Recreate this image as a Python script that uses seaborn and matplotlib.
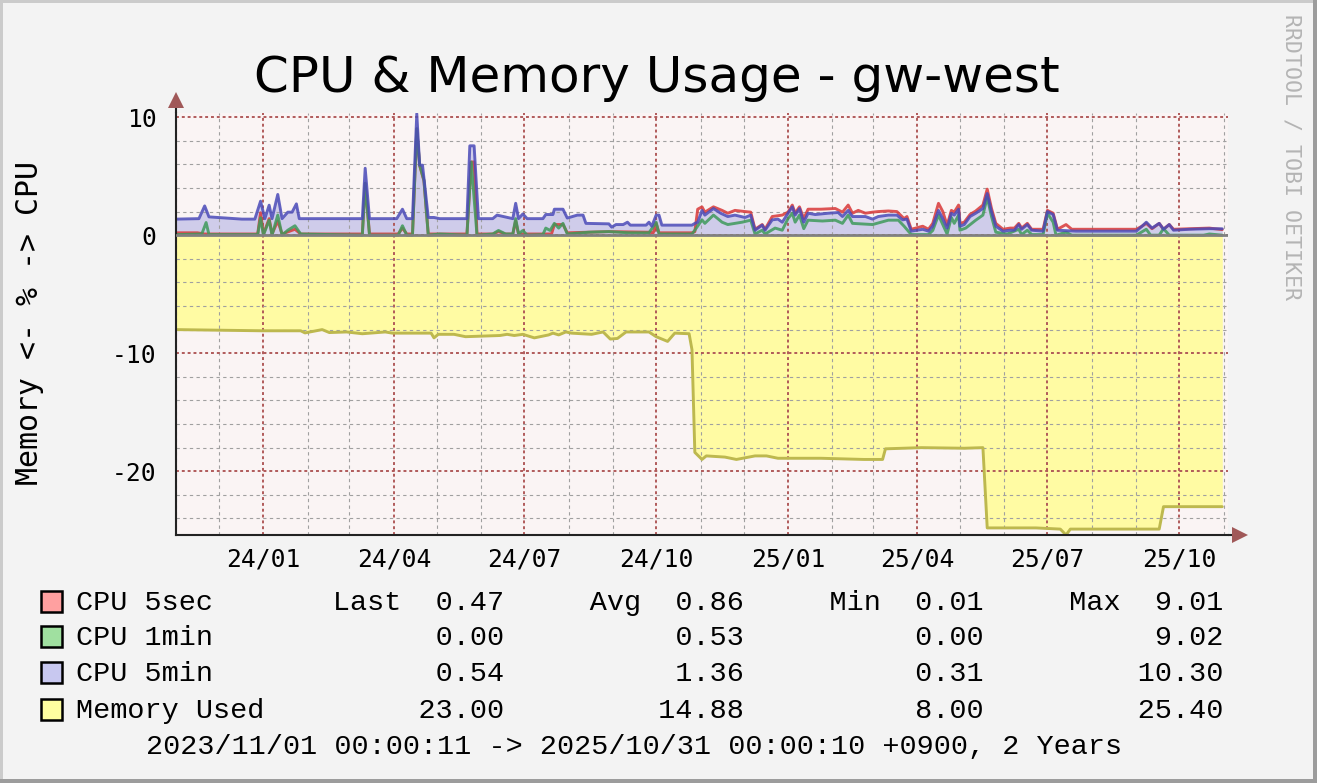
import numpy as np
import pandas as pd
import matplotlib
matplotlib.use("Agg")
import matplotlib.pyplot as plt
import matplotlib.dates as mdates
from matplotlib.ticker import MultipleLocator
from matplotlib.patches import Rectangle
import seaborn as sns

START = pd.Timestamp("2023-11-01")
END = START + pd.Timedelta(days=734)

# CPU 5sec (red), day offset from START
cpu5s_day = [0, 15, 20, 57, 59, 61, 65, 67, 71, 74, 83, 87, 130, 132, 135, 155, 158, 161, 165, 168,
             170, 173, 176, 184, 203, 206, 208, 210, 221, 225, 230, 235, 237, 239, 262, 264, 270, 273,
             302, 330, 333, 335, 337, 360, 362, 364, 367,
             369, 375, 381, 385, 390, 397, 401, 404, 409, 411, 416, 423, 427, 430, 432, 435, 438, 441,
             450, 460, 465, 469, 472, 476, 481, 486, 490, 497, 503, 508, 510, 513, 521, 525, 528, 532,
             535, 538, 541, 543, 546, 547, 550, 554, 558, 563, 566, 569, 572, 577, 582, 585, 588, 590,
             594, 597, 605, 608, 612, 615, 621, 625, 670, 674, 677, 681, 686, 689, 693, 696, 721, 730]
cpu5s_val = [0.2, 0.2, 0.1, 0.1, 1.9, 0.1, 1.4, 0.1, 1.2, 0.1, 0.5, 0.1, 0.1, 4.4, 0.1, 0.1, 0.6, 0.1, 0.1, 9.01,
             5.9, 4.6, 0.1, 0.1, 0.1, 6.2, 6.2, 0.1, 0.1, 0.3, 0.1, 0.1, 1.2, 0.1, 0.1, 0.9, 0.9, 0.2,
             0.3, 0.25, 0.2, 1.0, 0.2, 0.2, 0.3, 2.2, 2.4,
             1.95, 2.4, 2.1, 1.86, 2.1, 2.0, 1.95, 0.5, 0.9, 0.5, 1.58, 1.7, 1.95, 2.55, 1.86, 2.4, 1.4, 2.2,
             2.2, 2.26, 1.95, 2.55, 1.86, 2.1, 1.86, 1.95, 2.0, 2.05, 2.0, 1.4, 1.58, 0.5, 0.76, 0.5, 1.0, 2.7,
             2.0, 0.85, 2.1, 1.95, 2.55, 1.0, 1.1, 1.75, 2.05, 2.55, 3.9, 2.26, 1.0, 0.5, 0.6, 0.6, 1.0, 0.6,
             1.0, 0.5, 0.5, 2.1, 1.86, 0.5, 0.9, 0.5, 0.5, 0.76, 1.0, 0.55, 1.0, 0.5, 0.9, 0.5, 0.6, 0.47]

# CPU 1min (green)
cpu1m_day = [0, 18, 21, 23, 57, 59, 61, 65, 67, 71, 74, 78, 83, 87, 130, 132, 135, 155, 158, 161,
             165, 168, 170, 173, 176, 184, 203, 206, 210, 221, 225, 230, 235, 237, 239, 242, 245, 256,
             258, 261, 264, 267, 270, 273, 288, 302, 316, 330, 335, 337, 360, 362, 367, 369, 375, 381,
             385, 395, 401, 404, 409, 411, 418, 423, 427, 430, 432, 435, 438, 441, 451, 460, 465, 469,
             472, 486, 497, 504, 508, 513, 525, 528, 532, 535, 538, 541, 543, 546, 547, 551, 558, 563,
             566, 569, 572, 580, 588, 590, 594, 597, 605, 608, 612, 614, 621, 625, 670, 677, 680, 686,
             689, 693, 717, 721, 730]
cpu1m_val = [0.05, 0.1, 1.07, 0.05, 0.05, 1.47, 0.0, 1.27, 0.0, 1.7, 0.0, 0.42, 0.8, 0.1, 0.0, 4.4, 0.0, 0.0, 0.8, 0.0,
             0.0, 9.02, 5.93, 4.66, 0.0, 0.1, 0.0, 6.2, 0.0, 0.1, 0.4, 0.1, 0.1, 1.4, 0.1, 0.4, 0.0, 0.05,
             0.6, 0.4, 1.0, 0.6, 1.0, 0.1, 0.25, 0.3, 0.2, 0.2, 1.1, 0.1, 0.1, 0.42, 1.3, 1.0, 1.7, 1.1,
             0.9, 1.1, 1.27, 0.1, 0.42, 0.1, 0.6, 0.42, 1.4, 1.86, 1.1, 1.7, 0.55, 1.27, 1.2, 1.27, 1.0, 1.7,
             1.0, 0.9, 1.27, 1.27, 0.76, 0.05, 0.05, 0.4, 1.7, 0.9, 0.1, 1.5, 1.0, 1.7, 0.42, 0.6, 1.27, 1.7,
             3.2, 1.58, 0.25, 0.1, 0.5, 0.05, 0.42, 0.05, 0.05, 1.86, 1.1, 0.0, 0.25, 0.0, 0.0, 0.5, 0.0, 0.0,
             0.55, 0.0, 0.0, 0.1, 0.0]

# CPU 5min (blue)
cpu5m_day = [0, 16, 20, 23, 46, 55, 59, 62, 65, 67, 71, 74, 78, 81, 84, 86, 130, 132, 135, 154,
             158, 161, 165, 168, 170, 172, 176, 180, 184, 203, 205, 208, 211, 221, 224, 235, 237, 239,
             242, 245, 256, 258, 263, 264, 270, 273, 280, 284, 286, 302, 304, 307, 312, 315, 317, 328,
             330, 332, 335, 337, 339, 360, 362, 364, 367, 369, 375, 380, 385, 390, 397, 401, 404, 409,
             411, 416, 420, 423, 427, 430, 432, 435, 438, 441, 446, 455, 462, 465, 469, 472, 481, 486,
             490, 497, 503, 507, 510, 513, 521, 525, 528, 532, 535, 538, 541, 543, 546, 547, 550, 554,
             558, 563, 566, 569, 572, 577, 582, 585, 588, 590, 594, 597, 605, 608, 612, 615, 628, 670,
             674, 677, 681, 686, 689, 693, 696, 707, 721, 730]
cpu5m_val = [1.36, 1.4, 2.48, 1.55, 1.36, 1.36, 2.88, 1.4, 2.54, 1.4, 3.45, 1.4, 1.95, 1.95, 2.65, 1.4, 1.4, 5.67, 1.4, 1.4,
             2.2, 1.4, 1.4, 10.3, 5.93, 5.93, 1.5, 1.5, 1.4, 1.4, 7.57, 7.57, 1.4, 1.4, 1.7, 1.4, 2.7, 1.4,
             1.8, 1.4, 1.4, 1.75, 1.75, 2.2, 2.2, 1.45, 1.7, 1.7, 1.0, 0.96, 0.68, 0.9, 0.9, 1.1, 0.85, 0.85,
             1.1, 0.76, 1.7, 1.7, 0.85, 0.85, 1.0, 1.1, 2.1, 1.7, 2.26, 1.86, 1.58, 1.7, 1.5, 1.7, 0.42, 0.85,
             0.42, 1.3, 1.36, 1.1, 1.86, 2.4, 1.7, 2.26, 1.1, 1.86, 1.75, 1.86, 1.92, 1.58, 2.1, 1.58, 1.58, 1.36,
             1.58, 1.7, 1.7, 1.3, 1.36, 0.34, 0.5, 0.34, 0.76, 2.1, 1.4, 0.6, 1.86, 1.7, 2.2, 0.76, 0.9, 1.58,
             1.86, 2.26, 3.53, 2.0, 0.76, 0.34, 0.42, 0.42, 0.9, 0.5, 0.9, 0.42, 0.34, 2.0, 1.75, 0.42, 0.34, 0.34,
             0.76, 1.1, 0.6, 1.0, 0.5, 0.9, 0.42, 0.5, 0.55, 0.54]

# Memory used (drawn below zero)
mem_day = [0, 60, 87, 90, 102, 107, 119, 130, 146, 151, 178, 180, 183, 194, 202, 226, 231, 236, 242, 250,
           260, 263, 267, 272, 276, 290, 298, 303, 308, 314, 330, 335, 343, 348, 358, 360, 362, 367, 370,
           383, 391, 404, 412, 420, 450, 480, 493, 495, 520, 550, 563, 566, 600, 617, 621, 624, 660, 686,
           689, 730]
mem_val = [8.0, 8.1, 8.1, 8.28, 8.0, 8.25, 8.2, 8.35, 8.2, 8.3, 8.3, 8.7, 8.4, 8.4, 8.6, 8.5, 8.4, 8.5, 8.4, 8.7,
           8.45, 8.3, 8.45, 8.2, 8.3, 8.4, 8.2, 8.8, 8.75, 8.2, 8.2, 8.6, 9.0, 8.3, 8.35, 9.7, 18.4, 19.0, 18.7,
           18.8, 19.0, 18.7, 18.7, 18.9, 18.9, 19.0, 19.0, 18.1, 18.0, 18.05, 18.0, 24.8, 24.8, 24.9, 25.4, 24.9, 24.9, 24.9,
           23.0, 23.0]

legend_labels = ["CPU 5sec", "CPU 1min", "CPU 5min", "Memory Used"]
legend_colors = ["#FFA0A0", "#A0E0A0", "#C8C8F0", "#FFFFA0"]
stat_last = [0.47, 0.00, 0.54, 23.00]
stat_avg = [0.86, 0.53, 1.36, 14.88]
stat_min = [0.01, 0.00, 0.31, 8.00]
stat_max = [9.01, 9.02, 10.30, 25.40]
period_text = "2023/11/01 00:00:11 -> 2025/10/31 00:00:10 +0900, 2 Years"

W, H = 1317, 783


def to_dates(days):
    return START + pd.to_timedelta(np.array(days, dtype=float), unit="D")


sns.set_style("white")
plt.rcParams["font.family"] = ["DejaVu Sans"]
plt.rcParams["axes.unicode_minus"] = False
plt.rcParams["text.color"] = "black"
plt.rcParams["xtick.color"] = "black"
plt.rcParams["ytick.color"] = "black"

fig = plt.figure(figsize=(W / 100, H / 100), dpi=100, facecolor="#F3F3F3")
ax = fig.add_axes([176 / W, (H - 535) / H, 1052 / W, 422 / H])
ax.set_facecolor("#FAF4F4")
ax.set_axisbelow("line")

cpu5m_x = to_dates(cpu5m_day)
mem_x = to_dates(mem_day)
mem_neg = -np.array(mem_val)

ax.fill_between(cpu5m_x, 0, cpu5m_val, color="#CFCCEA", lw=0, zorder=1)
ax.fill_between(mem_x, 0, mem_neg, color="#FFFBA3", lw=0, zorder=1)

lw = 2.1
sns.lineplot(x=mem_x, y=mem_neg, ax=ax, color="#BDB84E", linewidth=lw, sort=False, zorder=2)
sns.lineplot(x=to_dates(cpu5s_day), y=cpu5s_val, ax=ax, color="#D83838", linewidth=lw, alpha=0.85,
             sort=False, zorder=2)
sns.lineplot(x=to_dates(cpu1m_day), y=cpu1m_val, ax=ax, color="#3F9A5B", linewidth=lw, alpha=0.85,
             sort=False, zorder=2)
sns.lineplot(x=cpu5m_x, y=cpu5m_val, ax=ax, color="#4A4AB8", linewidth=lw, alpha=0.85,
             sort=False, zorder=2)
ax.axhline(0, color="#808080", lw=2.0, zorder=3)

ax.set_xlim(START, END)
ax.set_ylim(-25.4, 10.35)
ax.xaxis.set_major_locator(mdates.MonthLocator(bymonth=[1, 4, 7, 10]))
ax.xaxis.set_major_formatter(mdates.DateFormatter("%y/%m"))
ax.xaxis.set_minor_locator(mdates.MonthLocator())
ax.yaxis.set_major_locator(MultipleLocator(10))
ax.yaxis.set_minor_locator(MultipleLocator(2))

ax.grid(which="major", color="#B05A5A", linestyle=(0, (1.5, 1.5)), linewidth=1.4)
ax.grid(which="minor", color="#A0A0A0", linestyle=(0, (3, 3)), linewidth=0.8)

for side in ["top", "right"]:
    ax.spines[side].set_visible(False)
for side in ["left", "bottom"]:
    ax.spines[side].set_color("#222222")
    ax.spines[side].set_linewidth(1.5)

ax.tick_params(which="major", length=5, width=1.1, color="#333333", direction="out")
ax.tick_params(which="minor", length=3, width=0.8, color="#555555", direction="out")
ax.tick_params(axis="y", which="major", pad=9)
ax.tick_params(axis="x", which="major", pad=4)
for lab in ax.get_xticklabels() + ax.get_yticklabels():
    lab.set_family("DejaVu Sans Mono")
    lab.set_fontsize(17.7)
ax.set_xlabel("")
ax.set_ylabel("")

# axis arrows
ax.plot([0, 0], [1, 1.02], color="#222222", lw=1.5, transform=ax.transAxes, clip_on=False)
ax.plot([1, 1.005], [0, 0], color="#222222", lw=1.5, transform=ax.transAxes, clip_on=False)
ax.plot([0], [1.031], marker="^", ms=12, mew=0, color="#A05858", transform=ax.transAxes, clip_on=False)
ax.plot([1.0114], [0], marker=">", ms=12, mew=0, color="#A05858", transform=ax.transAxes, clip_on=False)

fig.text(657 / W, 1 - 78 / H, "CPU & Memory Usage - gw-west", ha="center", va="center",
         fontsize=36, family="DejaVu Sans")
fig.text(30 / W, 1 - 323 / H, "Memory <- % -> CPU", rotation=90, ha="center", va="center",
         fontsize=21.5, family="DejaVu Sans Mono")
fig.text(1292 / W, 1 - 157 / H, "RRDTOOL / TOBI OETIKER", rotation=270, ha="center", va="center",
         fontsize=15.5, family="DejaVu Sans Mono", color="#B4B4B4")

# legend rows
row_y = [601, 636, 672, 709]
for i, lab in enumerate(legend_labels):
    first = i == 0
    row = (f"{lab:<15}" + ("Last" if first else "    ") + f"{stat_last[i]:6.2f}" + " " * 5
           + ("Avg" if first else "   ") + f"{stat_avg[i]:6.2f}" + " " * 5
           + ("Min" if first else "   ") + f"{stat_min[i]:6.2f}" + " " * 5
           + ("Max" if first else "   ") + f"{stat_max[i]:6.2f}")
    fig.text(76 / W, 1 - (row_y[i] + 9) / H, row, ha="left", va="baseline",
             fontsize=20.5, family="Liberation Mono")
    fig.add_artist(Rectangle((41 / W, 1 - (row_y[i] + 11) / H), 21 / W, 21 / H,
                             facecolor=legend_colors[i], edgecolor="black", linewidth=1.8))
fig.text(146 / W, 1 - 754 / H, period_text, ha="left", va="baseline",
         fontsize=20.5, family="Liberation Mono")

# 3d frame
fig.add_artist(Rectangle((0, 1 - 3 / H), 1, 3 / H, facecolor="#CBCBCB", lw=0))
fig.add_artist(Rectangle((0, 0), 3 / W, 1, facecolor="#CBCBCB", lw=0))
fig.add_artist(Rectangle((1 - 4 / W, 0), 4 / W, 1, facecolor="#9C9C9C", lw=0))
fig.add_artist(Rectangle((0, 0), 1, 4 / H, facecolor="#9C9C9C", lw=0))

fig.savefig("out.png", dpi=100, facecolor=fig.get_facecolor())
